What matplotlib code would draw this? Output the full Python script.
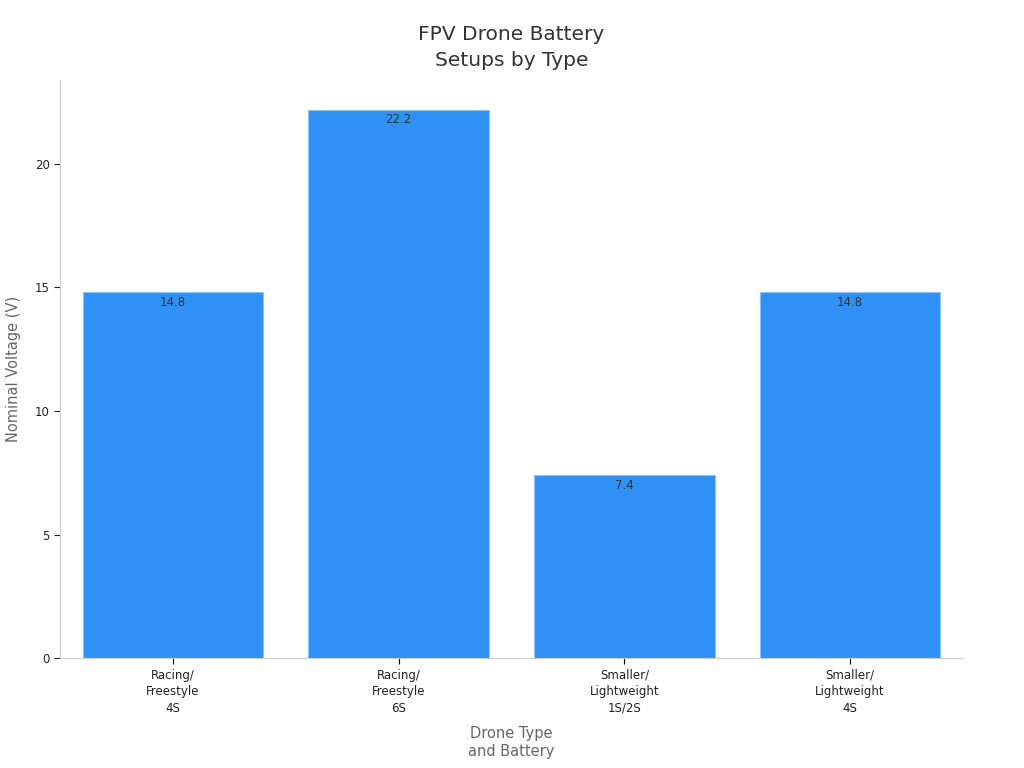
import matplotlib
matplotlib.use("Agg")
import matplotlib.pyplot as plt

plt.rcParams['font.family'] = ['DejaVu Sans']

categories = ["Racing/\nFreestyle\n4S", "Racing/\nFreestyle\n6S",
              "Smaller/\nLightweight\n1S/2S", "Smaller/\nLightweight\n4S"]
voltages = [14.8, 22.2, 7.4, 14.8]


def main():
    fig = plt.figure(figsize=(10.24, 7.68), dpi=100)
    ax = fig.add_axes([0.0586, 0.143, 0.8818, 0.753])

    x = list(range(len(categories)))
    bars = ax.bar(x, voltages, width=0.8, color="#2F91F6",
                  edgecolor="#8EC2F5", linewidth=0.8)

    for b, v in zip(bars, voltages):
        ax.text(b.get_x() + b.get_width() / 2, v - 0.15, f"{v}",
                ha="center", va="top", fontsize=8.5, color="#333333")

    ax.set_xlim(-0.5, 3.5)
    ax.set_ylim(0, 23.4)
    ax.set_xticks(x)
    ax.set_xticklabels(categories, fontsize=8.5, color="#222222",
                       linespacing=1.35)
    ax.set_yticks([0, 5, 10, 15, 20])
    ax.tick_params(axis="y", labelsize=8.5, colors="#222222", length=4)
    ax.tick_params(axis="x", length=4)
    for t in ax.get_yticklines() + ax.get_xticklines():
        t.set_color("#888888")

    for s in ["top", "right"]:
        ax.spines[s].set_visible(False)
    for s in ["left", "bottom"]:
        ax.spines[s].set_color("#cccccc")
        ax.spines[s].set_linewidth(0.8)

    ax.set_xlabel("Drone Type\nand Battery", fontsize=10.5, color="#666666",
                  labelpad=8, linespacing=1.25)
    ax.set_ylabel("Nominal Voltage (V)", fontsize=10.5, color="#666666",
                  labelpad=10)
    ax.set_title("FPV Drone Battery\nSetups by Type", fontsize=14.5,
                 color="#333333", pad=10, linespacing=1.45)

    fig.savefig("out.png", dpi=100)


if __name__ == '__main__':
    main()
